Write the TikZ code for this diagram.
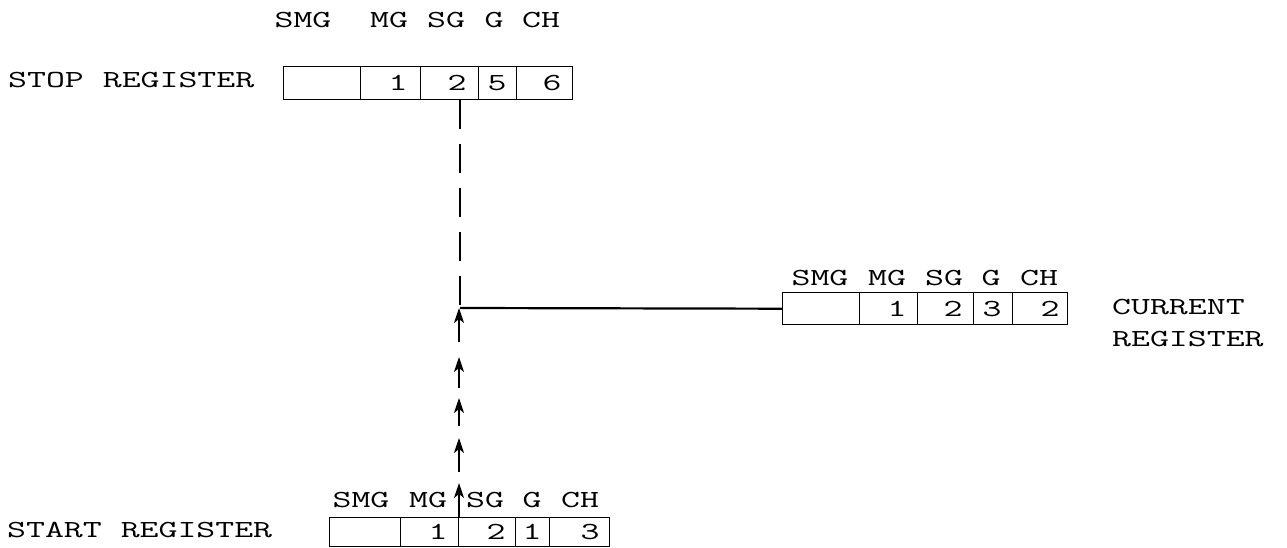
\documentclass[tikz,border=0pt]{standalone}
\usepackage{graphicx}
\usetikzlibrary{arrows.meta,calc}
\newcommand\tw[1]{\scalebox{1.5}[1]{#1}}
\begin{document}
\begin{tikzpicture}[x=1pt,y=-1pt,
  lbl/.style={inner sep=0pt, font=\fontsize{24.5}{28}\selectfont\ttfamily},
  cell/.style={draw, line width=1.4pt, inner sep=0pt, anchor=north west, minimum height=#1},
  dashline/.style={line width=1.8pt, dash pattern=on 29pt off 15pt},
  solidline/.style={line width=2.2pt},
  uparrow/.style={line width=1.7pt, -{Stealth[length=15pt,width=10pt,inset=4pt]}}
]
\useasboundingbox (0,0) rectangle (1287,548);

% ---------- STOP REGISTER ----------
\node[lbl, anchor=west] (stoplbl) at (8,80) {\tw{STOP REGISTER}};
\node[lbl] (ts0) at (303,20) {\tw{SMG}};
\node[lbl] (ts1) at (389,20) {\tw{MG}};
\node[lbl] (ts2) at (446,20) {\tw{SG}};
\node[lbl] (ts3) at (494,20) {\tw{G}};
\node[lbl] (ts4) at (541,20) {\tw{CH}};
\node[cell=33pt, minimum width=77pt] (s0) at (283,66) {};
\node[cell=33pt, minimum width=60pt] (s1) at (360,66) {};
\node[cell=33pt, minimum width=58pt] (s2) at (420,66) {};
\node[cell=33pt, minimum width=38pt] (s3) at (478,66) {};
\node[cell=33pt, minimum width=56pt] (s4) at (516,66) {};
\node[lbl] (sd1) at (398,83) {\tw{1}};
\node[lbl] (sd2) at (457,83) {\tw{2}};
\node[lbl] (sd3) at (497,83) {\tw{5}};
\node[lbl] (sd4) at (552,83) {\tw{6}};

% ---------- CURRENT REGISTER ----------
\node[lbl] (tc0) at (820,278) {\tw{SMG}};
\node[lbl] (tc1) at (887,278) {\tw{MG}};
\node[lbl] (tc2) at (944,278) {\tw{SG}};
\node[lbl] (tc3) at (991,278) {\tw{G}};
\node[lbl] (tc4) at (1039,278) {\tw{CH}};
\node[cell=32pt, minimum width=77pt] (c0) at (782,292) {};
\node[cell=32pt, minimum width=58pt] (c1) at (859,292) {};
\node[cell=32pt, minimum width=56pt] (c2) at (917,292) {};
\node[cell=32pt, minimum width=39pt] (c3) at (973,292) {};
\node[cell=32pt, minimum width=55pt] (c4) at (1012,292) {};
\node[lbl] (cd1) at (897,309) {\tw{1}};
\node[lbl] (cd2) at (953,309) {\tw{2}};
\node[lbl] (cd3) at (992,309) {\tw{3}};
\node[lbl] (cd4) at (1050,309) {\tw{2}};
\node[lbl, anchor=west] (curlbl1) at (1112,307) {\tw{CURRENT}};
\node[lbl, anchor=west] (curlbl2) at (1112,339) {\tw{REGISTER}};

% ---------- START REGISTER ----------
\node[lbl, anchor=west] (startlbl) at (7,530) {\tw{START REGISTER}};
\node[lbl] (tb0) at (361,500) {\tw{SMG}};
\node[lbl] (tb1) at (428,500) {\tw{MG}};
\node[lbl] (tb2) at (485,500) {\tw{SG}};
\node[lbl] (tb3) at (532,500) {\tw{G}};
\node[lbl] (tb4) at (580,500) {\tw{CH}};
\node[cell=29pt, minimum width=71pt] (b0) at (329,517) {};
\node[cell=29pt, minimum width=58pt] (b1) at (400,517) {};
\node[cell=29pt, minimum width=57pt] (b2) at (458,517) {};
\node[cell=29pt, minimum width=34pt] (b3) at (515,517) {};
\node[cell=29pt, minimum width=60pt] (b4) at (549,517) {};
\node[lbl] (bd1) at (438,532) {\tw{1}};
\node[lbl] (bd2) at (496,532) {\tw{2}};
\node[lbl] (bd3) at (532,532) {\tw{1}};
\node[lbl] (bd4) at (590,532) {\tw{3}};

% ---------- connectors ----------
\coordinate (J) at (460,308);
\draw[dashline] (J |- s2.south) -- (J);
\draw[solidline] (J) -- (c0.west);
\coordinate (a1t) at (459,308);
\coordinate (a1s) at (459,342);
\coordinate (a2t) at (459,357);
\coordinate (a2s) at (459,388);
\coordinate (a3t) at (459,398);
\coordinate (a3s) at (459,426);
\coordinate (a4t) at (459,438);
\coordinate (a4s) at (459,472);
\coordinate (a5t) at (459,483);
\draw[uparrow] (a1s) -- (a1t);
\draw[uparrow] (a2s) -- (a2t);
\draw[uparrow] (a3s) -- (a3t);
\draw[uparrow] (a4s) -- (a4t);
\draw[uparrow] (a5t |- b2.north) -- (a5t);
\end{tikzpicture}
\end{document}
